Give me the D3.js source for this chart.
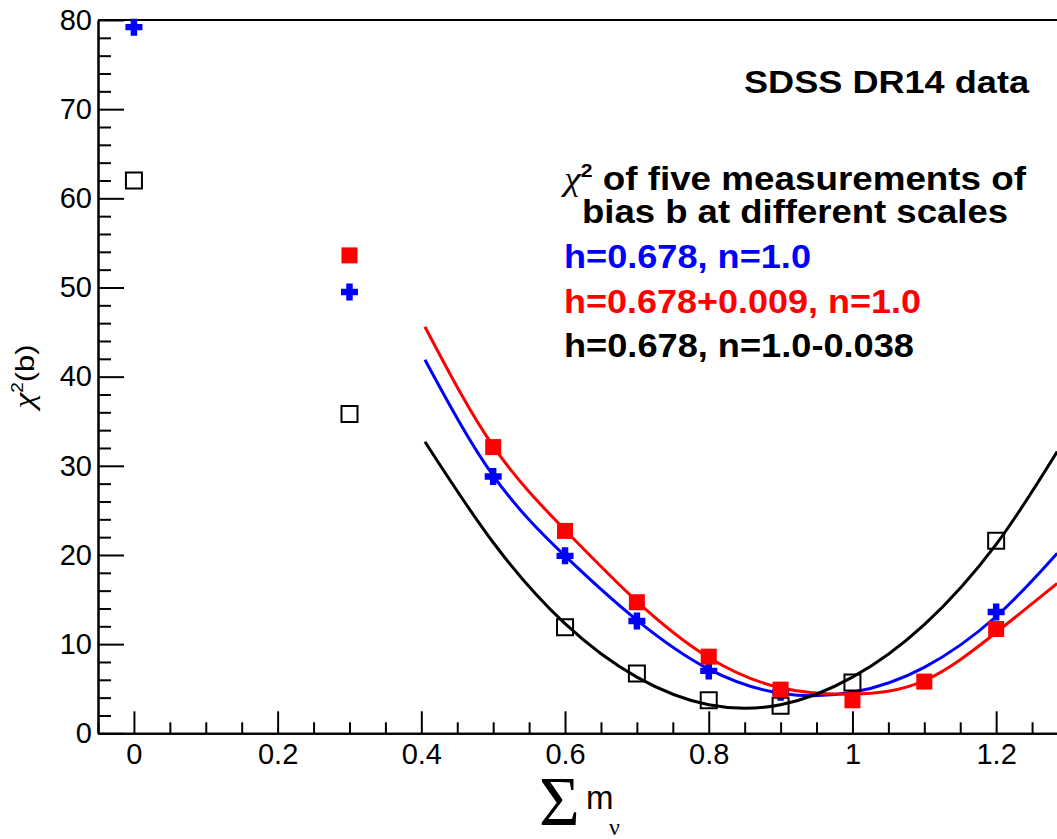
<!DOCTYPE html>
<html>
<head>
<meta charset="utf-8">
<script src="https://cdn.jsdelivr.net/npm/d3@7"></script>
<style>
  html, body { margin: 0; padding: 0; background: #fff; }
  svg { display: block; }
</style>
</head>
<body>
<div id="chart"></div>
<script>
// points
var blueX = [0, 0.3, 0.5, 0.6, 0.7, 0.8, 0.9, 1.2];
var blueY = [79.2, 49.5, 28.8, 19.9, 12.6, 7.0, 4.6, 13.6];
var redX = [0.3, 0.5, 0.6, 0.7, 0.8, 0.9, 1.0, 1.1, 1.2];
var redY = [53.6, 32.1, 22.7, 14.7, 8.6, 4.9, 3.7, 5.8, 11.7];
var blackX = [0, 0.3, 0.6, 0.7, 0.8, 0.9, 1.0, 1.2];
var blackY = [62.0, 35.8, 11.9, 6.7, 3.7, 3.1, 5.7, 21.6];

// fitted curves
var fitX = [0.405, 0.5, 0.6, 0.7, 0.8, 0.9, 1.0, 1.1, 1.2, 1.285];
var fitBlue = [41.9, 28.9, 19.9, 12.7, 7.2, 4.5, 4.6, 7.4, 13.1, 20.2];
var fitRed = [45.6, 32.2, 22.8, 14.8, 8.5, 5.1, 4.4, 5.9, 11.3, 16.8];
var fitBlack = [32.7, 21.4, 12.3, 6.3, 3.2, 3.2, 6.3, 12.2, 21.2, 31.6];

var xTicks = [0, 0.2, 0.4, 0.6, 0.8, 1, 1.2];
var xTickLabels = ["0", "0.2", "0.4", "0.6", "0.8", "1", "1.2"];
var yTicks = [0, 10, 20, 30, 40, 50, 60, 70, 80];
var yTickLabels = ["0", "10", "20", "30", "40", "50", "60", "70", "80"];

var legendLabels = ["h=0.678, n=1.0", "h=0.678+0.009, n=1.0", "h=0.678, n=1.0-0.038"];
var legendColors = ["#0000ff", "#ff0000", "#000000"];

var W = 1057, H = 839;
var sans = "'Liberation Sans', Arial, Helvetica, sans-serif";
var serif = "'Liberation Serif', 'Times New Roman', serif";

var svg = d3.select("#chart").append("svg")
    .attr("width", W).attr("height", H);
svg.append("rect").attr("width", W).attr("height", H).attr("fill", "#fff");

var x = d3.scaleLinear().domain([-0.05, 1.3]).range([98, 1068]);
var y = d3.scaleLinear().domain([0, 80]).range([733.3, 20]);

//petits traits
var xMinor = d3.range(-0.05, 1.3001, 0.05).filter(v => Math.abs(v*5 - Math.round(v*5)) > 1e-6);
var yMinor = d3.range(0, 80.01, 2).filter(v => v % 10 != 0);

function styleAxis(g){
    g.selectAll("path.domain").attr("stroke", "#000").attr("stroke-width", 2);
    g.selectAll(".tick line").attr("stroke", "#000").attr("stroke-width", 2);
    g.attr("font-family", sans).attr("font-size", 29);
    g.selectAll(".tick text").attr("fill", "#000");
}

var gx = svg.append("g").attr("transform", "translate(0," + y(0) + ")");
gx.append("g").call(d3.axisBottom(x).tickValues(xMinor).tickSize(-11).tickSizeOuter(0).tickFormat(""))
    .call(styleAxis);
gx.append("g").call(d3.axisBottom(x).tickValues(xTicks).tickSize(-22).tickSizeOuter(0).tickPadding(10)
    .tickFormat((d,i) => xTickLabels[i]))
    .call(styleAxis);

var gy = svg.append("g").attr("transform", "translate(" + x(-0.05) + ",0)");
gy.append("g").call(d3.axisLeft(y).tickValues(yMinor).tickSize(-13).tickSizeOuter(0).tickFormat(""))
    .call(styleAxis);
gy.append("g").call(d3.axisLeft(y).tickValues(yTicks).tickSize(-26).tickSizeOuter(0).tickPadding(6)
    .tickFormat((d,i) => yTickLabels[i]))
    .call(styleAxis);

// cadre du haut
svg.append("line")
    .attr("x1", x(-0.05)).attr("x2", x(1.3)).attr("y1", y(80)).attr("y2", y(80))
    .attr("stroke", "#000").attr("stroke-width", 2);

// courbes
var line = d3.line().x(d => x(d[0])).y(d => y(d[1])).curve(d3.curveNatural);
[[fitBlue, "#0000ff"], [fitRed, "#ff0000"], [fitBlack, "#000000"]].forEach(c => {
    svg.append("path")
        .attr("d", line(fitX.map((v,i) => [v, c[0][i]])))
        .attr("fill", "none").attr("stroke", c[1]).attr("stroke-width", 3);
});

// marqueurs
var thickCross = {
    draw: function(ctx, size){
        var a = size/2, t = size*0.19;
        ctx.moveTo(-t, -a); ctx.lineTo(t, -a); ctx.lineTo(t, -t); ctx.lineTo(a, -t);
        ctx.lineTo(a, t); ctx.lineTo(t, t); ctx.lineTo(t, a); ctx.lineTo(-t, a);
        ctx.lineTo(-t, t); ctx.lineTo(-a, t); ctx.lineTo(-a, -t); ctx.lineTo(-t, -t);
        ctx.closePath();
    }
};
svg.append("g").selectAll("path").data(blueX.map((v,i) => [v, blueY[i]])).enter().append("path")
    .attr("transform", d => "translate(" + x(d[0]) + "," + y(d[1]) + ")")
    .attr("d", d3.symbol().type(thickCross).size(17))
    .attr("fill", "#0000ff");
svg.append("g").selectAll("path").data(blackX.map((v,i) => [v, blackY[i]])).enter().append("path")
    .attr("transform", d => "translate(" + x(d[0]) + "," + y(d[1]) + ")")
    .attr("d", d3.symbol().type(d3.symbolSquare).size(256))
    .attr("fill", "none").attr("stroke", "#000").attr("stroke-width", 2);
svg.append("g").selectAll("path").data(redX.map((v,i) => [v, redY[i]])).enter().append("path")
    .attr("transform", d => "translate(" + x(d[0]) + "," + y(d[1]) + ")")
    .attr("d", d3.symbol().type(d3.symbolSquare).size(256))
    .attr("fill", "#ff0000");

// textes
svg.append("text")
    .attr("x", 1029).attr("y", 93)
    .attr("text-anchor", "end")
    .attr("font-family", sans).attr("font-weight", "bold").attr("font-size", 31)
    .attr("textLength", 285).attr("lengthAdjust", "spacingAndGlyphs")
    .text("SDSS DR14 data");

var t1 = svg.append("text")
    .attr("x", 795).attr("y", 190)
    .attr("text-anchor", "middle")
    .attr("font-family", sans).attr("font-weight", "bold").attr("font-size", 33)
    .attr("textLength", 462).attr("lengthAdjust", "spacingAndGlyphs");
t1.append("tspan").attr("font-family", serif).attr("font-style", "italic").attr("font-weight", "normal")
    .attr("font-size", 34).text("χ");
t1.append("tspan").attr("font-size", 19).attr("dy", -13).text("2");
t1.append("tspan").attr("dy", 13).text(" of five measurements of");

svg.append("text")
    .attr("x", 795).attr("y", 223)
    .attr("text-anchor", "middle")
    .attr("font-family", sans).attr("font-weight", "bold").attr("font-size", 33)
    .attr("textLength", 426).attr("lengthAdjust", "spacingAndGlyphs")
    .text("bias b at different scales");

var legendY = [268, 313, 357], legendW = [247, 357, 350];
legendLabels.forEach((lab, i) => {
    svg.append("text")
        .attr("x", 564).attr("y", legendY[i])
        .attr("font-family", sans).attr("font-weight", "bold").attr("font-size", 33)
        .attr("fill", legendColors[i])
        .attr("textLength", legendW[i]).attr("lengthAdjust", "spacingAndGlyphs")
        .text(lab);
});

// titre axe y
var ty = svg.append("text")
    .attr("transform", "translate(34,376.5) rotate(-90)")
    .attr("text-anchor", "middle")
    .attr("font-family", sans).attr("font-size", 26)
    .attr("textLength", 64).attr("lengthAdjust", "spacingAndGlyphs");
ty.append("tspan").attr("font-family", serif).attr("font-style", "italic").attr("font-size", 30).text("χ");
ty.append("tspan").attr("font-size", 16).attr("dy", -11).text("2");
ty.append("tspan").attr("dy", 11).text("(b)");

// titre axe x
svg.append("text")
    .attr("x", 539).attr("y", 825)
    .attr("font-family", serif).attr("font-size", 70)
    .text("Σ");
svg.append("text")
    .attr("x", 586).attr("y", 809)
    .attr("font-family", sans).attr("font-size", 33)
    .text("m");
svg.append("text")
    .attr("x", 609).attr("y", 835)
    .attr("font-family", serif).attr("font-size", 24)
    .text("ν");
</script>
</body>
</html>
